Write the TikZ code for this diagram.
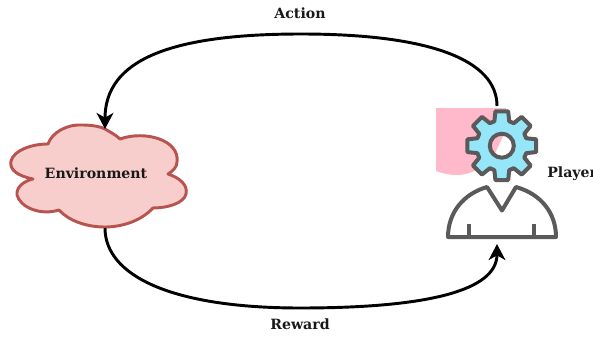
\documentclass[tikz,border=0pt]{standalone}
\usepackage{fontspec}
\setmainfont{DejaVu Serif}
\usetikzlibrary{arrows.meta}
\definecolor{cloudfill}{HTML}{F8CECC}
\definecolor{cloudline}{HTML}{B85450}
\definecolor{gearfill}{HTML}{94E6F8}
\definecolor{iconline}{HTML}{5A5A5A}
\definecolor{pinkbg}{HTML}{FFB9CA}
\tikzset{
  lbl/.style={font=\fontsize{10.6pt}{12pt}\selectfont\bfseries, inner sep=0pt, text=black!90},
  flow/.style={line width=2.2pt, black, -{Stealth[length=12pt,width=12.5pt,inset=3.5pt]}},
  icon/.style={draw=iconline, line width=3pt, line join=round},
}
\begin{document}
\begin{tikzpicture}[x=0.75pt,y=-0.75pt]
\useasboundingbox (0,0) rectangle (593,336);
% pink backdrop
\fill[pinkbg] (436,108) -- (506,108) .. controls (506,125) and (503,140) .. (496,152)
  .. controls (488,166) and (470,176) .. (455,175) .. controls (448,175) and (442,173) .. (436,171) -- cycle;
% cloud
\draw[draw=cloudline, fill=cloudfill, line width=2.2pt, line join=round]
  (105,129) .. controls (110,132) and (116,135) .. (120,139)
  .. controls (145,130) and (180,140) .. (177,162)
  .. controls (177,167) and (173,171) .. (168,174)
  .. controls (180,178) and (188,185) .. (186,194)
  .. controls (184,203) and (168,208) .. (153,208)
  .. controls (140,222) and (120,227) .. (105,227)
  .. controls (85,227) and (68,220) .. (59,210)
  .. controls (40,216) and (20,207) .. (17,195)
  .. controls (16,187) and (24,181) .. (33,179)
  .. controls (18,176) and (9,170) .. (11,161)
  .. controls (14,150) and (32,144) .. (48,144)
  .. controls (52,132) and (68,124) .. (82,125)
  .. controls (90,125) and (99,126) .. (105,129) -- cycle;
\coordinate (cloudTop) at (105,129);
\coordinate (cloudBot) at (105,228);
\node[lbl] (env) at (96,173.5) {Environment};
% person
\coordinate (personBot) at (497,244);
\draw[icon, fill=white]
  (448,237) .. controls (448,213) and (463,194) .. (487,187) -- (502,210.5) -- (516,187)
  .. controls (541,194) and (556,213) .. (556,237) -- cycle;
\draw[icon, line width=2.4pt] (469,224) -- (469,237) (534,224) -- (534,237);
% gear
\begin{scope}[shift={(501.8,145.7)}]
\draw[icon, fill=gearfill] (-10.5:35)
  \foreach \a in {0,45,...,315}{
    -- (\a-10.5:35) -- (\a+10.5:35) -- (\a+17:25.5) -- (\a+28:25.5)
  } -- cycle;
\begin{scope}
\clip (0,0) circle (12);
\fill[white] (-13,-13) rectangle (13,13);
\fill[pinkbg] (-14,-14) -- (1,-14) -- (1,-9) -- (-7,8) -- (-14,14) -- cycle;
\end{scope}
\draw[icon] (0,0) circle (12);
\end{scope}
\coordinate (gearTop) at (497,106);
\coordinate (topMid) at (301,34);
\coordinate (botMid) at (300,308);
% connectors
\draw[flow] (gearTop) .. controls (497,60) and (430,34) .. (topMid) .. controls (170,34) and (105,60) .. (cloudTop);
\draw[flow] (cloudBot) .. controls (105,275) and (170,308) .. (botMid) .. controls (430,308) and (497,290) .. (personBot);
% labels
\node[lbl] (action) at (300,13) {Action};
\node[lbl] (reward) at (300,324) {Reward};
\node[lbl, anchor=west] (player) at (547,174) {Player};
\end{tikzpicture}
\end{document}
